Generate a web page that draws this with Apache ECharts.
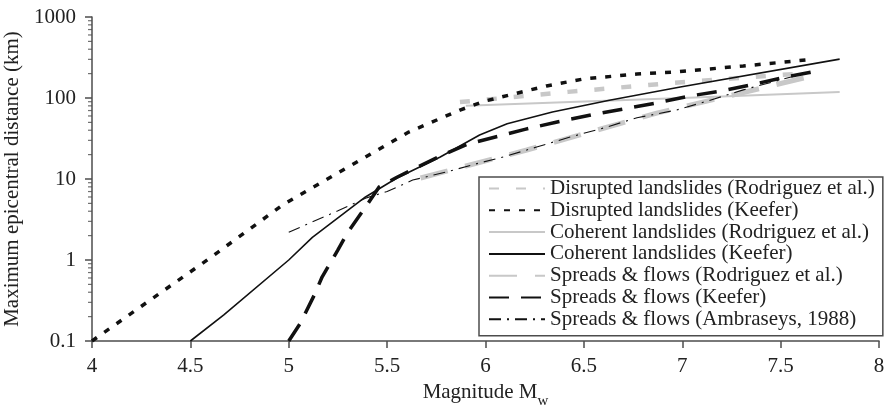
<!DOCTYPE html>
<html>
<head>
<meta charset="utf-8">
<script src="https://cdn.jsdelivr.net/npm/echarts@6/dist/echarts.min.js"></script>
<style>
html,body{margin:0;padding:0;background:#fff;}
#chart{width:887px;height:406px;}
</style>
</head>
<body>
<div id="chart"></div>
<script>
// ---- data (Magnitude Mw, max epicentral distance km) ----
const seriesNames = [
  "Disrupted landslides (Rodriguez et al.)",
  "Disrupted landslides (Keefer)",
  "Coherent landslides (Rodriguez et al.)",
  "Coherent landslides (Keefer)",
  "Spreads & flows (Rodriguez et al.)",
  "Spreads & flows (Keefer)",
  "Spreads & flows (Ambraseys, 1988)"
];
const disruptedRodriguez = [[5.87,89],[6.42,119],[6.95,153],[7.36,182],[7.65,204]];
const disruptedKeefer = [[4.0,0.1],[4.08,0.137],[4.6,1.06],[4.97,4.8],[5.3,14],[5.61,38],[5.87,71],[6.0,92],[6.31,141],[6.5,172],[6.77,198],[6.95,209],[7.31,248],[7.67,302]];
const coherentRodriguez = [[5.9,80],[7.0,100],[7.8,119]];
const coherentKeefer = [[4.5,0.1],[4.67,0.21],[5.0,1.0],[5.12,1.9],[5.39,6],[5.55,10.3],[5.77,18.7],[5.97,35],[6.11,48],[6.34,67],[6.63,94],[6.99,137],[7.8,302]];
const spreadsRodriguez = [[5.67,10.3],[6.21,22.8],[6.87,65],[7.68,192]];
const spreadsKeefer = [[5.0,0.1],[5.06,0.167],[5.13,0.37],[5.17,0.62],[5.25,1.33],[5.3,2.2],[5.39,4.5],[5.46,8],[5.55,10.5],[5.76,18.7],[5.91,27],[6.09,35],[6.2,41],[6.37,51],[6.54,62],[6.7,73],[6.87,87],[7.04,106],[7.2,122],[7.37,149],[7.53,182],[7.66,209]];
const spreadsAmbraseys = [[5.0,2.2],[5.12,2.95],[5.25,4.05],[5.39,5.8],[5.5,7.0],[5.63,9.7],[5.8,12.2],[5.97,15.8],[6.09,18.7],[6.26,24.8],[6.43,33],[6.6,42.6],[6.77,57],[6.97,71],[7.13,92],[7.31,126],[7.46,158],[7.63,204]];
const xTicks = [4,4.5,5,5.5,6,6.5,7,7.5,8];
const yTickLabels = ["0.1","1","10","100","1000"];
const yMinorTicks = [0.2,0.3,0.4,0.5,0.6,0.7,0.8,0.9,2,3,4,5,6,7,8,9,20,30,40,50,60,70,80,90,200,300,400,500,600,700,800,900];

const FONT = "Liberation Serif";
const AXIS_COLOR = "#4d4d4d";
const GREY = "#c8c8c8";
const FS = 21;

function lineSeries(name, data, color, width, dash, z) {
  return {
    name: name, type: "line", data: data, symbol: "none", z: z,
    lineStyle: {color: color, width: width, type: dash, cap: "butt"},
    itemStyle: {color: color},
    emphasis: {disabled: true}, silent: true
  };
}

const chart = echarts.init(document.getElementById("chart"), null, {renderer: "canvas"});
chart.setOption({
  animation: false,
  backgroundColor: "#fff",
  grid: {left: 92, right: 8, top: 17, bottom: 65, containLabel: false, outerBoundsMode: "none"},
  xAxis: {
    type: "value", min: 4, max: 8, interval: 0.5,
    name: "{n|Magnitude M}{s|w}", nameLocation: "middle", nameGap: 38,
    nameTextStyle: {
      rich: {
        n: {fontFamily: FONT, fontSize: FS, color: "#222", lineHeight: 24, verticalAlign: "bottom"},
        s: {fontFamily: FONT, fontSize: 15, color: "#222", lineHeight: 15, verticalAlign: "bottom", padding: [0,0,-6,0]}
      }
    },
    axisLine: {show: true, onZero: false, lineStyle: {color: AXIS_COLOR, width: 1.5}},
    axisTick: {show: true, length: 7, lineStyle: {color: AXIS_COLOR, width: 1.5}},
    axisLabel: {fontFamily: FONT, fontSize: FS, color: "#222", margin: 15,
      formatter: v => String(v)},
    splitLine: {show: false}
  },
  yAxis: {
    type: "log", logBase: 10, min: 0.1, max: 1000,
    name: "Maximum epicentral distance (km)", nameLocation: "middle", nameGap: 60,
    nameTextStyle: {fontFamily: FONT, fontSize: FS, color: "#222"},
    axisLine: {show: true, onZero: false, lineStyle: {color: AXIS_COLOR, width: 1.5}},
    axisTick: {show: true, length: 7, lineStyle: {color: AXIS_COLOR, width: 1.5}},
    axisLabel: {fontFamily: FONT, fontSize: FS, color: "#222", margin: 16,
      formatter: function (v) {
        const idx = Math.round(Math.log10(v)) + 1;
        return yTickLabels[idx] !== undefined ? yTickLabels[idx] : String(v);
      }},
    splitLine: {show: false}
  },
  legend: {
    show: true, orient: "vertical", left: 479, top: 177,
    data: seriesNames,
    itemWidth: 56, itemHeight: 14, itemGap: 0.8,
    padding: [1, 8, 6, 9],
    backgroundColor: "#fff", borderColor: AXIS_COLOR, borderWidth: 1.5,
    itemStyle: {opacity: 0},
    textStyle: {fontFamily: FONT, fontSize: FS, color: "#222", lineHeight: 20},
    selectedMode: false
  },
  series: [
    lineSeries(seriesNames[0], disruptedRodriguez, GREY, 4.5, [10,17], 2),
    lineSeries(seriesNames[1], disruptedKeefer, "#111", 3.5, [6,9], 3),
    lineSeries(seriesNames[2], coherentRodriguez, GREY, 2, "solid", 2),
    lineSeries(seriesNames[3], coherentKeefer, "#111", 1.6, "solid", 3),
    lineSeries(seriesNames[4], spreadsRodriguez, GREY, 5, [28,18], 2),
    lineSeries(seriesNames[5], spreadsKeefer, "#111", 3.5, [20,12], 3),
    lineSeries(seriesNames[6], spreadsAmbraseys, "#111", 1.1, [12,6,2,6], 4),
    {
      name: "yMinor", type: "scatter", silent: true, clip: false, z: 5,
      data: yMinorTicks.map(v => [4, v]),
      symbol: "rect", symbolSize: [4, 1.2], symbolOffset: [-2, 0],
      itemStyle: {color: AXIS_COLOR}
    }
  ]
});
</script>
</body>
</html>
